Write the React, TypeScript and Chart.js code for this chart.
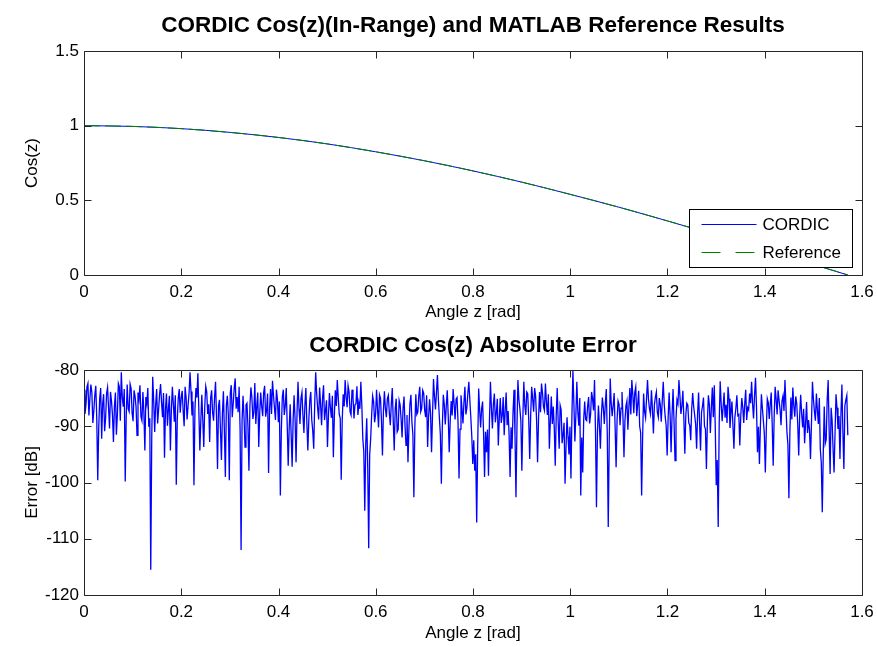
import React, { useEffect, useRef } from "react";
import { Chart, registerables } from "chart.js";

Chart.register(...registerables);

// ---------- data ----------
const cosAngles = [0, 0.1, 0.2, 0.3, 0.4, 0.5, 0.6, 0.7, 0.8, 0.9, 1.0, 1.1, 1.2, 1.3, 1.4, 1.5, 1.5708];
const cordicCos = [1.0, 0.995, 0.98, 0.955, 0.921, 0.878, 0.825, 0.765, 0.697, 0.622, 0.54, 0.454, 0.362, 0.267, 0.17, 0.071, 0.0];
const referenceCos = [1.0, 0.995, 0.98, 0.955, 0.921, 0.878, 0.825, 0.765, 0.697, 0.622, 0.54, 0.454, 0.362, 0.267, 0.17, 0.071, 0.0];

const angleTicks = [0, 0.2, 0.4, 0.6, 0.8, 1, 1.2, 1.4, 1.6];
const cosTicks = [0, 0.5, 1, 1.5];
const errorTicks = [-120, -110, -100, -90, -80];

const errorZStart = 0;
const errorZEnd = 1.5708;
// absolute error in dB (even samples), z = 0 .. pi/2
const errorDbEven = [
  -83.5, -86.2, -82.4, -85.1, -84.0, -87.3, -82.8, -99.6, -85.0, -92.2,
  -84.3, -88.6, -83.1, -90.4, -85.5, -92.8, -84.0, -87.9, -83.0, -80.4,
  -86.5, -99.8, -82.6, -87.4, -83.3, -89.1, -84.7, -91.6, -85.2, -88.3,
  -83.9, -94.3, -86.0, -90.1, -115.5, -81.2, -91.0, -83.4, -87.0, -82.5,
  -88.4, -95.6, -84.2, -86.9, -94.3, -83.0, -89.2, -100.4, -85.0, -87.6,
  -83.7, -90.0, -84.9, -86.3, -80.4, -88.1, -100.5, -83.2, -80.6, -94.3,
  -84.4, -93.7, -82.9, -87.8, -92.8, -83.6, -89.0, -82.1, -97.6, -85.3,
  -96.0, -83.8, -99.0, -84.6, -99.6, -82.7, -85.9, -81.5, -84.8,
  -83.0, -112.0, -84.6, -93.7, -85.9, -97.9, -83.1, -88.7, -82.3, -86.4,
  -93.7, -84.0, -88.2, -82.8, -87.1, -98.3, -83.4, -81.9, -86.7, -83.5,
  -89.3, -102.3, -84.8, -88.0, -83.2, -97.0, -86.1, -97.2, -84.5, -96.4,
  -82.1, -89.6, -84.0, -91.2, -83.2, -94.3, -85.4, -88.9, -94.0, -80.4,
  -86.8, -83.1, -89.8, -82.7, -87.2, -93.7, -84.1, -88.5, -95.5, -83.6,
  -81.8, -87.9, -99.5, -84.3, -81.8, -86.6, -83.9, -88.0, -84.7, -86.2,
  -82.9, -85.8, -82.1, -92.2, -105.0, -88.6, -111.7, -92.2, -84.6, -89.3,
  -83.5, -90.2, -85.0, -95.2, -83.8, -88.4, -84.5, -89.8,
  -83.2, -94.3, -85.1, -90.6, -86.2, -92.0, -84.7, -93.4, -96.4, -86.0,
  -89.2, -102.6, -84.3, -87.5, -83.0, -86.8, -84.1, -88.4, -93.7, -85.2,
  -94.6, -81.6, -87.0, -80.9, -88.5, -100.2, -84.4, -89.7, -83.6, -94.6,
  -85.5, -83.4, -88.8, -84.9, -99.3, -84.5, -89.5, -83.0, -86.7, -82.1,
  -88.4, -96.7, -97.9, -107.1, -83.3, -90.2, -85.6, -99.0, -94.6, -98.8,
  -82.1, -90.4, -84.2, -87.6, -93.4, -85.0, -88.1, -91.6, -84.0, -87.3,
  -99.0, -94.0, -83.5, -102.6, -81.8, -86.9, -97.9, -82.1, -88.0, -84.2,
  -95.8, -83.0, -87.4, -84.6, -96.4, -83.9, -82.4, -86.5,
  -82.4, -88.0, -94.0, -84.7, -86.5, -97.0, -83.2, -94.0, -87.1, -91.5,
  -100.2, -88.4, -95.0, -99.3, -80.2, -92.7, -82.1, -89.9, -102.3, -98.2,
  -85.6, -89.0, -84.8, -87.9, -85.1, -81.8, -104.4, -86.3, -94.0, -84.9,
  -89.6, -83.4, -107.9, -81.5, -88.2, -84.1, -97.3, -85.5, -89.8, -83.9,
  -95.5, -86.4, -90.6, -83.2, -81.8, -87.7, -83.0, -86.1, -90.0, -102.3,
  -84.2, -88.5, -81.8, -86.9, -83.6, -91.3, -84.8, -87.5, -85.0, -89.2,
  -82.1, -88.3, -95.2, -84.0, -94.6, -83.4, -96.1, -85.3, -81.8, -87.8,
  -83.7, -94.9, -85.9, -89.4, -92.5, -84.1, -88.0, -94.0,
  -84.0, -94.3, -86.4, -90.0, -97.6, -84.5, -91.2, -83.1, -82.7, -100.5,
  -107.9, -82.0, -89.1, -84.0, -86.2, -83.0, -90.3, -85.6, -94.0, -86.8,
  -88.1, -93.4, -85.0, -89.4, -83.5, -86.7, -84.2, -82.1, -88.6, -81.4,
  -94.6, -96.7, -84.3, -89.0, -98.2, -85.1, -88.7, -84.0, -97.0, -83.0,
  -87.9, -85.4, -89.8, -84.6, -81.8, -91.0, -102.8, -84.9, -83.1, -88.3,
  -86.0, -95.2, -84.4, -90.2, -93.0, -85.7, -88.9, -95.8, -82.1, -87.4,
  -84.2, -89.6, -94.1, -105.3, -86.5, -92.4, -81.8, -98.5, -89.0, -98.2,
  -84.3, -90.5, -95.8, -82.6, -97.6, -85.3, -91.6,
];
// absolute error in dB (odd samples, between the even ones)
const errorDbOdd = [
  -87.8, -83.0, -88.1, -82.6, -89.4, -84.5, -88.6, -90.3, -83.2, -86.0,
  -90.9, -84.2, -86.7, -83.9, -88.0, -86.4, -91.5, -82.4, -89.0, -84.9,
  -83.4, -88.2, -86.9, -82.5, -87.7, -83.6, -86.5, -84.0, -82.7, -89.0,
  -87.5, -84.8, -83.2, -88.6, -92.0, -85.5, -86.2, -89.5, -84.3, -85.8,
  -84.1, -87.0, -89.9, -84.6, -87.1, -86.0, -84.5, -88.9, -83.4, -85.0,
  -87.2, -83.0, -88.8, -84.1, -83.8, -85.6, -87.0, -84.9, -87.4, -89.0,
  -88.9, -86.5, -83.9, -86.1, -85.0, -87.6, -84.8, -88.5, -86.4, -90.7,
  -87.7, -91.0, -86.3, -87.9, -84.1, -88.4, -83.3, -86.9, -87.5,
  -90.5, -89.0, -88.4, -86.2, -90.1, -86.4, -84.9, -87.5, -89.6, -84.0,
  -87.6, -86.5, -84.0, -88.3, -84.2, -87.0, -87.8, -84.5, -88.9, -85.2,
  -85.6, -90.8, -83.5, -86.4, -89.8, -90.3, -91.4, -89.0, -88.7, -87.5,
  -86.9, -85.1, -88.0, -86.3, -89.4, -88.9, -83.9, -90.8, -86.0, -84.2,
  -88.8, -86.2, -85.0, -88.9, -85.4, -88.1, -86.7, -84.6, -88.2, -86.4,
  -85.0, -88.6, -89.1, -86.5, -84.9, -82.8, -87.4, -83.5, -88.6, -86.0,
  -88.0, -86.9, -86.4, -94.5, -93.0, -97.3, -95.0, -88.0, -85.6, -87.9,
  -87.0, -84.4, -89.0, -87.2, -86.9, -85.1, -87.6, -86.1,
  -89.0, -86.9, -91.0, -85.4, -88.7, -86.8, -89.9, -88.0, -90.3, -84.4,
  -91.5, -90.0, -87.9, -84.6, -87.4, -83.6, -87.2, -84.5, -88.3, -87.8,
  -88.0, -84.7, -84.0, -85.3, -91.5, -90.0, -86.2, -86.4, -88.2, -89.1,
  -88.1, -86.0, -85.2, -89.4, -90.5, -86.8, -85.8, -87.9, -84.1, -85.3,
  -91.8, -92.5, -95.0, -93.6, -87.1, -86.9, -91.2, -91.0, -90.6, -89.0,
  -86.8, -86.0, -89.3, -85.1, -88.6, -89.4, -84.8, -87.2, -89.8, -91.5,
  -90.2, -87.6, -91.4, -90.0, -85.3, -89.1, -88.6, -86.3, -83.9, -88.9,
  -87.9, -85.1, -83.2, -88.9, -88.6, -87.5, -84.0, -87.2,
  -85.6, -84.3, -89.0, -89.6, -90.2, -88.1, -89.2, -86.3, -93.0, -89.4,
  -93.6, -91.8, -90.1, -88.0, -86.0, -88.1, -87.4, -85.0, -92.0, -88.7,
  -88.8, -86.4, -89.5, -83.9, -87.2, -90.8, -91.0, -89.9, -88.1, -86.7,
  -86.0, -91.3, -92.6, -85.9, -86.3, -90.2, -88.8, -86.1, -86.8, -88.4,
  -89.0, -85.5, -86.6, -87.9, -84.3, -84.0, -88.2, -83.7, -91.1, -92.0,
  -87.4, -85.0, -85.3, -87.8, -86.9, -86.2, -83.9, -88.4, -86.2, -85.5,
  -86.1, -89.9, -88.5, -88.0, -87.9, -89.2, -88.7, -86.0, -84.6, -86.4,
  -88.6, -88.0, -86.2, -89.8, -86.9, -86.5, -89.6, -87.8,
  -89.2, -87.5, -84.9, -90.5, -89.0, -86.2, -86.8, -88.4, -90.2, -96.0,
  -89.5, -85.9, -86.6, -88.5, -89.4, -85.1, -87.6, -89.8, -88.4, -84.5,
  -87.9, -88.1, -86.6, -86.0, -88.9, -87.1, -85.9, -86.0, -84.5, -86.6,
  -90.1, -89.8, -86.8, -91.4, -90.5, -85.8, -86.1, -89.7, -88.3, -85.2,
  -83.6, -87.0, -85.5, -87.3, -86.4, -93.3, -91.0, -88.8, -86.4, -84.7,
  -89.6, -88.0, -87.8, -86.9, -89.5, -91.2, -90.6, -89.4, -85.2, -89.0,
  -87.1, -85.0, -96.5, -95.0, -93.1, -85.3, -90.7, -86.7, -94.0, -91.2,
  -86.7, -88.2, -87.9, -91.0, -86.4, -84.5,
];

// ---------- styling ----------
const FONT = "'Liberation Sans', Arial, Helvetica, sans-serif";
const FONT_SIZE = 17;
const TITLE_SIZE = 22.5;
const tickFont = { family: FONT, size: FONT_SIZE };
const AXIS_COLOR = "#262626";

function fmt(v: number): string {
  return String(Math.round(v * 1000) / 1000);
}

const matlabPlugin = {
  id: "matlabBox",
  afterDraw(chart: any, _args: any, opts: any) {
    const { ctx, chartArea: a, scales } = chart;
    const x = scales.x;
    const y = scales.y;
    ctx.save();
    ctx.strokeStyle = AXIS_COLOR;
    ctx.lineWidth = 1;
    const L = Math.round(a.left) + 0.5;
    const R = Math.round(a.right) + 0.5;
    const T = Math.round(a.top) + 0.5;
    const B = Math.round(a.bottom) + 0.5;
    ctx.beginPath();
    ctx.rect(L, T, R - L, B - T);
    const tl = 7;
    for (const t of x.ticks) {
      const px = Math.round(x.getPixelForValue(t.value)) + 0.5;
      ctx.moveTo(px, B);
      ctx.lineTo(px, B - tl);
      ctx.moveTo(px, T);
      ctx.lineTo(px, T + tl);
    }
    for (const t of y.ticks) {
      const py = Math.round(y.getPixelForValue(t.value)) + 0.5;
      ctx.moveTo(L, py);
      ctx.lineTo(L + tl, py);
      ctx.moveTo(R, py);
      ctx.lineTo(R - tl, py);
    }
    ctx.stroke();

    if (opts && opts.title) {
      ctx.fillStyle = "#000";
      ctx.font = `bold ${opts.titleSize || 18}px ${FONT}`;
      ctx.textAlign = "center";
      ctx.textBaseline = "middle";
      ctx.fillText(opts.title, (a.left + a.right) / 2, opts.titleY);
    }

    if (opts && opts.legend) {
      const w = 163;
      const h = 58;
      const bx = Math.round(a.right - 10 - w) + 0.5;
      const by = Math.round(a.bottom - 8 - h) + 0.5;
      ctx.fillStyle = "#fff";
      ctx.fillRect(bx, by, w, h);
      ctx.strokeStyle = "#000";
      ctx.lineWidth = 1;
      ctx.strokeRect(bx, by, w, h);
      ctx.font = `${FONT_SIZE}px ${FONT}`;
      ctx.textAlign = "left";
      ctx.textBaseline = "middle";
      const ds = chart.data.datasets;
      ds.forEach((d: any, i: number) => {
        const ly = by + 15 + i * 28;
        ctx.save();
        ctx.strokeStyle = d.borderColor;
        ctx.lineWidth = 1;
        ctx.setLineDash(i === 1 ? [19, 15] : []);
        ctx.beginPath();
        ctx.moveTo(bx + 12, ly);
        ctx.lineTo(bx + 67, ly);
        ctx.stroke();
        ctx.restore();
        ctx.fillStyle = "#000";
        ctx.fillText(d.label, bx + 73, ly + 1);
      });
    }
    ctx.restore();
  },
};

function makeAxis(
  ticksArr: number[],
  min: number,
  max: number,
  title: string,
  titlePadding: any,
  tickPadding: number,
  size: { width?: number; height?: number }
) {
  return {
    type: "linear",
    min,
    max,
    afterBuildTicks: (s: any) => {
      s.ticks = ticksArr.map((v) => ({ value: v }));
    },
    afterFit: (s: any) => {
      if (size.width !== undefined) {
        s.width = size.width;
        s.paddingTop = 0;
        s.paddingBottom = 0;
      }
      if (size.height !== undefined) {
        s.height = size.height;
        s.paddingLeft = 0;
        s.paddingRight = 0;
      }
    },
    grid: { display: false, drawTicks: false },
    border: { display: false },
    ticks: {
      color: "#000",
      font: tickFont,
      padding: tickPadding,
      autoSkip: false,
      maxRotation: 0,
      minRotation: 0,
      callback: (v: any) => fmt(Number(v)),
    },
    title: {
      display: true,
      text: title,
      color: "#000",
      font: tickFont,
      padding: titlePadding,
    },
  };
}

export default function App() {
  const topRef = useRef<HTMLCanvasElement | null>(null);
  const botRef = useRef<HTMLCanvasElement | null>(null);

  useEffect(() => {
    const c1 = new Chart(topRef.current as HTMLCanvasElement, {
      type: "line",
      data: {
        datasets: [
          {
            label: "CORDIC",
            data: cosAngles.map((z, i) => ({ x: z, y: cordicCos[i] })),
            borderColor: "#0000ff",
            borderWidth: 1,
            pointRadius: 0,
            cubicInterpolationMode: "monotone",
            fill: false,
            order: 1,
          },
          {
            label: "Reference",
            data: cosAngles.map((z, i) => ({ x: z, y: referenceCos[i] })),
            borderColor: "#008000",
            borderWidth: 1,
            borderDash: [16, 5],
            pointRadius: 0,
            cubicInterpolationMode: "monotone",
            fill: false,
            order: 0,
          },
        ],
      },
      options: {
        animation: false,
        responsive: false,
        maintainAspectRatio: false,
        events: [],
        layout: { padding: { top: 51, right: 15, left: 0, bottom: 0 } },
        plugins: {
          legend: { display: false },
          title: { display: false },
          tooltip: { enabled: false },
          matlabBox: {
            title: "CORDIC Cos(z)(In-Range) and MATLAB Reference Results",
            titleY: 26,
            titleSize: TITLE_SIZE,
            legend: true,
          },
        } as any,
        scales: {
          x: makeAxis(angleTicks, 0, 1.6, "Angle z [rad]", { top: 0, bottom: 7 }, 7, { height: 55 }),
          y: makeAxis(cosTicks, 0, 1.5, "Cos(z)", { top: 22, bottom: 0 }, 5, { width: 84 }),
        } as any,
      },
      plugins: [matlabPlugin],
    } as any);

    const errorDb: number[] = [];
    errorDbEven.forEach((v, i) => {
      errorDb.push(v);
      if (i < errorDbOdd.length) errorDb.push(errorDbOdd[i]);
    });
    const n = errorDb.length;
    const c2 = new Chart(botRef.current as HTMLCanvasElement, {
      type: "line",
      data: {
        datasets: [
          {
            label: "Error",
            data: errorDb.map((v, i) => ({
              x: errorZStart + ((errorZEnd - errorZStart) * i) / (n - 1),
              y: v,
            })),
            borderColor: "#0000ff",
            borderWidth: 1.3,
            pointRadius: 0,
            tension: 0,
            fill: false,
          },
        ],
      },
      options: {
        animation: false,
        responsive: false,
        maintainAspectRatio: false,
        events: [],
        layout: { padding: { top: 40, right: 15, left: 0, bottom: 0 } },
        plugins: {
          legend: { display: false },
          title: { display: false },
          tooltip: { enabled: false },
          matlabBox: {
            title: "CORDIC Cos(z) Absolute Error",
            titleY: 16,
            titleSize: TITLE_SIZE,
            legend: false,
          },
        } as any,
        scales: {
          x: makeAxis(angleTicks, 0, 1.6, "Angle z [rad]", { top: 0, bottom: 3 }, 7, { height: 52 }),
          y: makeAxis(errorTicks, -120, -80, "Error [dB]", { top: 22, bottom: 0 }, 5, { width: 84 }),
        } as any,
      },
      plugins: [matlabPlugin],
    } as any);

    return () => {
      c1.destroy();
      c2.destroy();
    };
  }, []);

  return (
    <div
      style={{
        position: "fixed",
        left: 0,
        top: 0,
        width: 877,
        height: 647,
        background: "#fff",
        overflow: "hidden",
      }}
    >
      <canvas
        ref={topRef}
        width={877}
        height={330}
        style={{ position: "absolute", left: 0, top: 0, width: 877, height: 330 }}
      />
      <canvas
        ref={botRef}
        width={877}
        height={317}
        style={{ position: "absolute", left: 0, top: 330, width: 877, height: 317 }}
      />
    </div>
  );
}
